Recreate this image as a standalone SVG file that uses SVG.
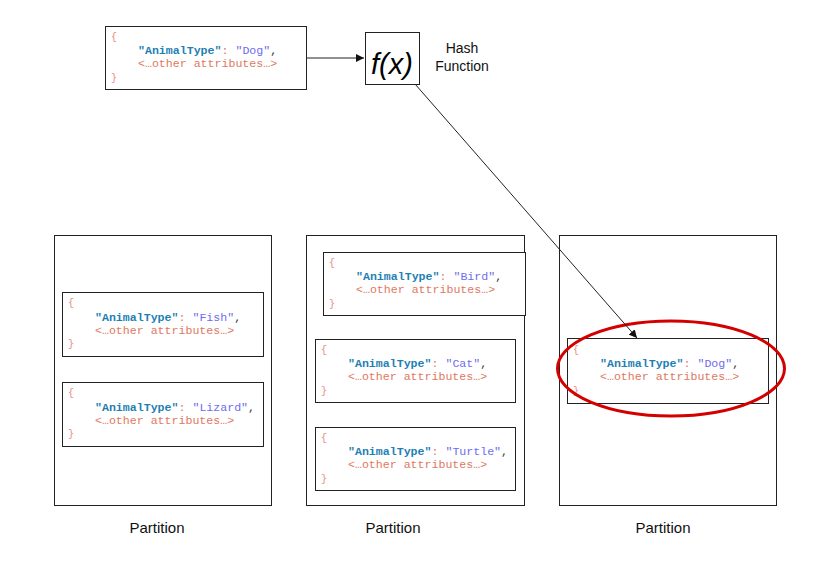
<svg xmlns="http://www.w3.org/2000/svg" width="829" height="561" viewBox="0 0 829 561">
<style>
.box{fill:#fff;stroke:#222;stroke-width:1}
.part{fill:#fff;stroke:#222;stroke-width:1}
.mono{font-family:"Liberation Mono","Courier New",monospace;font-size:11.6px}
.br{fill:#e88a80;font-size:10px}
.key{fill:#1f7fb4;font-weight:bold}
.col{fill:#e07a70}
.val{fill:#6e6cf0}
.cm{fill:#333}
.oth{fill:#e07862}
.lbl{font-family:"Liberation Sans",Arial,sans-serif;font-size:15px;fill:#111}
.con{stroke:#222;stroke-width:1;fill:none}
</style>
<defs>
<marker id="ah" viewBox="0 0 10 10" refX="10" refY="5" markerWidth="8" markerHeight="8" markerUnits="userSpaceOnUse" orient="auto">
<path d="M0,0 L10,5 L0,10 Z" fill="#111"/>
</marker>
<g id="rec">
<text class="mono br" x="6" y="14">{</text>
<text class="mono br" x="6" y="55">}</text>
</g>
</defs>

<g id="source">
<rect class="box" x="105.5" y="26.5" width="201" height="63"/>
<use href="#rec" x="105" y="26"/>
<text class="mono" x="138" y="54"><tspan class="key">"AnimalType"</tspan><tspan class="col">: </tspan><tspan class="val">"Dog"</tspan><tspan class="cm">,</tspan></text>
<text class="mono oth" x="138" y="67">&lt;…other attributes…&gt;</text>
</g>

<g id="hash">
<rect class="box" x="365.5" y="32.5" width="54" height="52"/>
<text x="392" y="74" text-anchor="middle" style="font-family:'Liberation Sans',Arial,sans-serif;font-size:29px;font-style:italic;fill:#000">f(x)</text>
<text class="lbl" x="462" y="53" text-anchor="middle" style="font-size:14px">Hash</text>
<text class="lbl" x="462" y="71" text-anchor="middle" style="font-size:14px">Function</text>
</g>

<g id="partition1">
<rect class="part" x="54.5" y="235.5" width="217" height="270"/>
<text class="lbl" x="157" y="533" text-anchor="middle">Partition</text>
</g>
<g id="partition2">
<rect class="part" x="306.5" y="235.5" width="218" height="270"/>
<text class="lbl" x="393" y="533" text-anchor="middle">Partition</text>
</g>
<g id="partition3">
<rect class="part" x="559.5" y="235.5" width="217" height="270"/>
<text class="lbl" x="663" y="533" text-anchor="middle">Partition</text>
</g>

<g id="fish">
<rect class="box" x="62.5" y="292.5" width="201" height="64"/>
<use href="#rec" x="62" y="292"/>
<text class="mono" x="95" y="321"><tspan class="key">"AnimalType"</tspan><tspan class="col">: </tspan><tspan class="val">"Fish"</tspan><tspan class="cm">,</tspan></text>
<text class="mono oth" x="95" y="334">&lt;…other attributes…&gt;</text>
</g>
<g id="lizard">
<rect class="box" x="62.5" y="382.5" width="201" height="64"/>
<use href="#rec" x="62" y="382"/>
<text class="mono" x="95" y="411"><tspan class="key">"AnimalType"</tspan><tspan class="col">: </tspan><tspan class="val">"Lizard"</tspan><tspan class="cm">,</tspan></text>
<text class="mono oth" x="95" y="424">&lt;…other attributes…&gt;</text>
</g>

<g id="bird">
<rect class="box" x="323.5" y="252.5" width="202" height="63"/>
<use href="#rec" x="323" y="252"/>
<text class="mono" x="356" y="280"><tspan class="key">"AnimalType"</tspan><tspan class="col">: </tspan><tspan class="val">"Bird"</tspan><tspan class="cm">,</tspan></text>
<text class="mono oth" x="356" y="293">&lt;…other attributes…&gt;</text>
</g>
<g id="cat">
<rect class="box" x="315.5" y="339.5" width="200" height="63"/>
<use href="#rec" x="315" y="339"/>
<text class="mono" x="348" y="367"><tspan class="key">"AnimalType"</tspan><tspan class="col">: </tspan><tspan class="val">"Cat"</tspan><tspan class="cm">,</tspan></text>
<text class="mono oth" x="348" y="380">&lt;…other attributes…&gt;</text>
</g>
<g id="turtle">
<rect class="box" x="315.5" y="427.5" width="200" height="63"/>
<use href="#rec" x="315" y="427"/>
<text class="mono" x="348" y="455"><tspan class="key">"AnimalType"</tspan><tspan class="col">: </tspan><tspan class="val">"Turtle"</tspan><tspan class="cm">,</tspan></text>
<text class="mono oth" x="348" y="468">&lt;…other attributes…&gt;</text>
</g>

<g id="dog">
<rect class="box" x="567.5" y="338.5" width="201" height="65"/>
<use href="#rec" x="567" y="339"/>
<text class="mono" x="600" y="367"><tspan class="key">"AnimalType"</tspan><tspan class="col">: </tspan><tspan class="val">"Dog"</tspan><tspan class="cm">,</tspan></text>
<text class="mono oth" x="600" y="380">&lt;…other attributes…&gt;</text>
<ellipse cx="671" cy="368.5" rx="113.5" ry="47.5" fill="none" stroke="#d40000" stroke-width="3"/>
</g>

<g id="connectors">
<line class="con" x1="306" y1="58" x2="364" y2="58" marker-end="url(#ah)"/>
<line class="con" x1="415" y1="84" x2="637" y2="338" marker-end="url(#ah)"/>
</g>
</svg>
